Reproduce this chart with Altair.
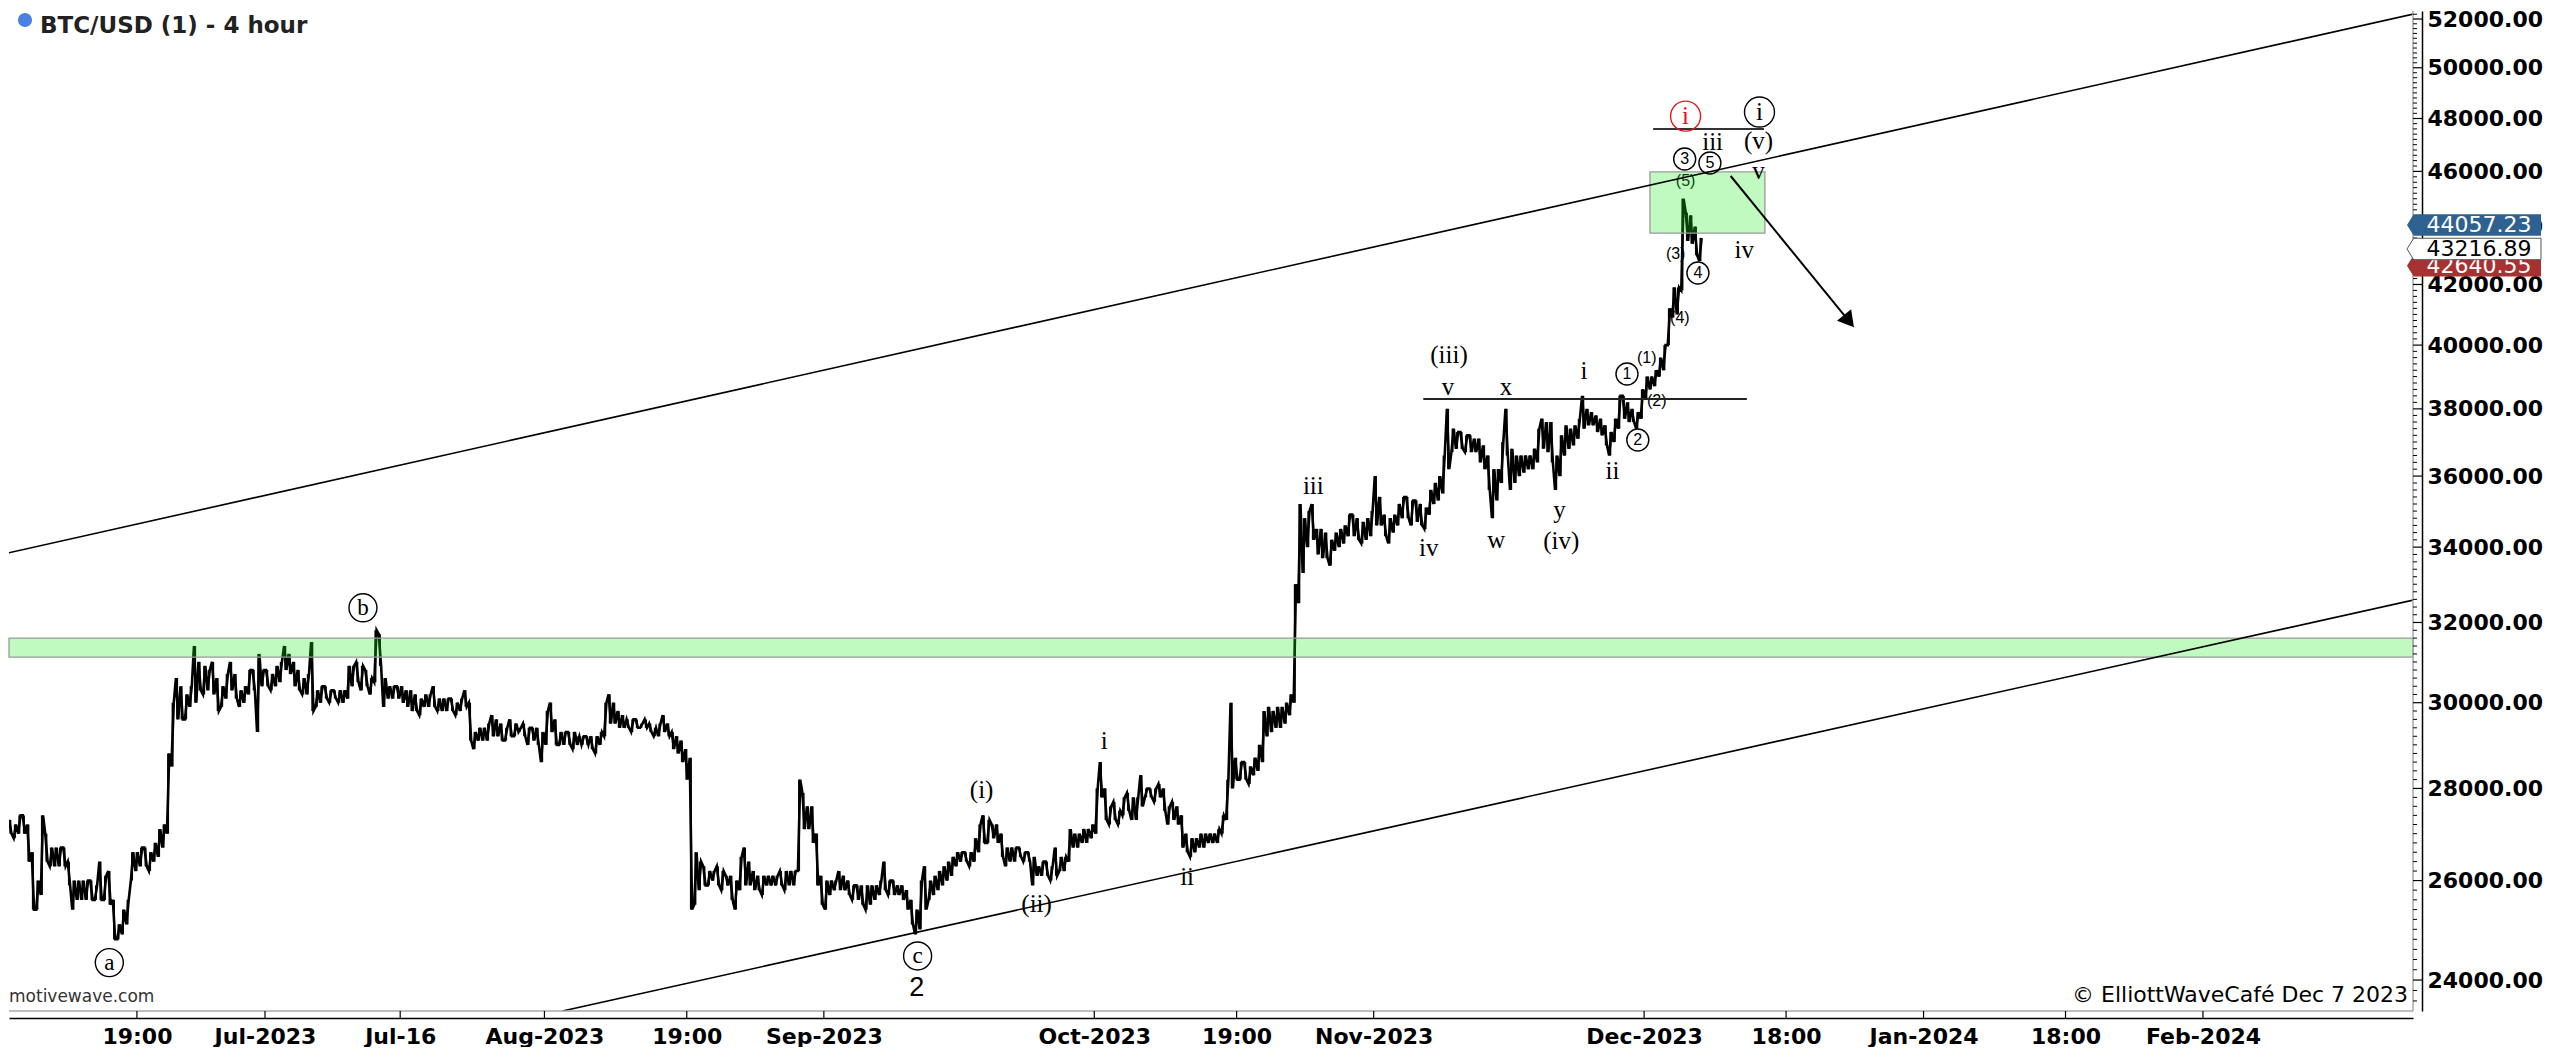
import altair as alt
import pandas as pd

# ---------------- price data: 12-hour bars ----------------
# each tuple = one day: (low 1st half, high 1st half, low 2nd half, high 2nd half), in hundreds of USD
jun = [  # Jun 2 .. Jun 30
    (268, 272, 270, 274), (270, 273, 269, 272), (270, 274, 270, 274), (264, 272, 254, 266),
    (254, 260, 257, 274), (264, 270, 263, 267), (263, 267, 263, 267), (263, 267, 259, 264),
    (254, 260, 256, 260), (256, 260, 256, 260), (256, 260, 256, 259), (256, 264, 256, 261),
    (255, 262, 248, 256), (248, 251, 249, 254), (251, 256, 260, 266), (262, 266, 263, 267),
    (263, 267, 262, 266), (264, 268, 265, 271), (267, 272, 270, 288), (285, 300, 296, 306),
    (296, 304, 296, 302), (299, 304, 300, 314), (303, 310, 302, 309), (303, 308, 302, 310),
    (298, 306, 299, 304), (301, 307, 303, 310), (301, 307, 299, 303), (300, 304, 302, 308),
    (303, 308, 293, 312),
]
jul = [
    (304, 308, 304, 308), (303, 307, 304, 309), (305, 310, 308, 314), (307, 312, 304, 310),
    (303, 308, 302, 306), (302, 307, 298, 315), (299, 303, 300, 304), (301, 304, 300, 303),
    (301, 303, 300, 303), (300, 303, 301, 309), (304, 309, 305, 310), (303, 309, 304, 308),
    (302, 306, 305, 318), (309, 317, 299, 306), (301, 304, 301, 304), (301, 304, 300, 304),
    (299, 303, 298, 303), (298, 302, 297, 301), (299, 302, 299, 302), (299, 304, 298, 301),
    (298, 301, 298, 301), (298, 301, 297, 300), (298, 301, 299, 303), (291, 300, 289, 293),
    (291, 294, 291, 294), (291, 295, 292, 297), (292, 296, 291, 295), (291, 294, 292, 296),
    (292, 295, 293, 294), (292, 295, 290, 294), (291, 294, 290, 294),
]
aug = [
    (286, 293, 290, 298), (293, 300, 290, 296), (290, 293, 290, 293), (290, 293, 289, 293),
    (290, 292, 290, 292), (290, 292, 289, 292), (288, 292, 290, 293), (292, 300, 295, 302),
    (295, 300, 294, 298), (294, 297, 294, 296), (293, 296, 294, 296), (294, 295, 294, 296),
    (293, 295, 292, 294), (292, 295, 293, 297), (292, 295, 289, 293), (288, 292, 286, 291),
    (282, 289, 254, 287), (255, 266, 258, 264), (259, 263, 259, 262), (260, 262, 259, 263),
    (258, 262, 259, 261), (256, 261, 254, 260), (258, 265, 259, 267), (259, 264, 258, 262),
    (258, 261, 257, 261), (259, 261, 259, 261), (259, 261, 259, 262), (258, 262, 259, 262),
    (259, 262, 262, 282), (271, 279, 271, 276), (268, 276, 259, 270),
]
sep = [
    (255, 261, 254, 260), (257, 260, 258, 260), (258, 262, 258, 261), (257, 260, 256, 259),
    (256, 259, 255, 259), (254, 259, 255, 259), (256, 259, 257, 260), (258, 264, 257, 260),
    (257, 260, 257, 259), (256, 259, 254, 258), (251, 256, 249, 254), (250, 260, 254, 263),
    (256, 260, 257, 261), (258, 262, 259, 263), (260, 264, 261, 265), (263, 266, 264, 266),
    (264, 266, 263, 266), (264, 269, 266, 272), (268, 274, 268, 273), (269, 272, 268, 272),
    (265, 270, 263, 267), (264, 267, 264, 267), (265, 267, 264, 266), (264, 266, 259, 265),
    (261, 263, 261, 264), (261, 264, 260, 263), (261, 267, 262, 265), (262, 265, 264, 271),
    (267, 270, 267, 270), (268, 271, 268, 271),
]
oct_ = [
    (269, 272, 270, 280), (278, 286, 273, 280), (272, 276, 273, 277), (272, 275, 274, 278),
    (275, 279, 273, 278), (273, 278, 276, 283), (278, 280, 278, 280), (277, 280, 278, 281),
    (275, 280, 272, 276), (273, 277, 272, 276), (267, 274, 266, 270), (265, 269, 266, 269),
    (267, 270, 267, 270), (268, 270, 268, 270), (268, 271, 270, 274), (273, 282, 280, 300),
    (282, 287, 282, 286), (282, 286, 281, 285), (283, 287, 284, 290), (286, 298, 292, 299),
    (293, 298, 294, 299), (294, 299, 295, 300), (297, 302, 300, 330), (325, 352, 333, 348),
    (340, 350, 342, 352), (338, 345, 337, 345), (337, 344, 335, 342), (339, 344, 340, 345),
    (341, 346, 343, 349), (343, 349, 342, 348), (341, 347, 342, 348),
]
nov = [
    (343, 350, 346, 360), (346, 354, 343, 349), (341, 348, 344, 349), (346, 352, 348, 354),
    (348, 354, 346, 353), (347, 353, 346, 352), (345, 351, 349, 356), (352, 358, 353, 360),
    (355, 366, 362, 380), (367, 374, 368, 373), (368, 373, 367, 372), (367, 372, 367, 371),
    (364, 371, 362, 369), (356, 366, 348, 362), (353, 362, 358, 370), (366, 380, 356, 368),
    (358, 366, 360, 366), (361, 366, 362, 366), (362, 368, 364, 374), (368, 377, 367, 376),
    (364, 376, 356, 366), (360, 372, 366, 375), (368, 374, 369, 375), (371, 377, 374, 384),
    (375, 380, 375, 379), (373, 378, 372, 377), (369, 375, 366, 373), (370, 377, 374, 384),
    (377, 384, 376, 382), (376, 380, 374, 379),
]
dec = [  # Dec 1 .. Dec 7
    (377, 386, 383, 390), (386, 390, 387, 392), (390, 396, 392, 400), (400, 412, 409, 419),
    (410, 419, 418, 450), (435, 445, 434, 444), (430, 440, 428, 436),
]

BAR_START = "2023-06-02 00:00"
CLOCK_SHIFT_H = -12          # chart clock vs UTC
REF_DAY = pd.Timestamp("2023-07-01")

# time axis ticks
tick_dates = ["2023-06-16 19:00", "2023-07-01", "2023-07-16", "2023-08-01", "2023-08-16 19:00",
              "2023-09-01", "2023-10-01", "2023-10-16 19:00", "2023-11-01", "2023-12-01",
              "2023-12-16 18:00", "2024-01-01", "2024-01-16 18:00", "2024-02-01"]
tick_labels = ["19:00", "Jul-2023", "Jul-16", "Aug-2023", "19:00", "Sep-2023", "Oct-2023", "19:00",
               "Nov-2023", "Dec-2023", "18:00", "Jan-2024", "18:00", "Feb-2024"]
y_major = list(range(24000, 52001, 2000))

# annotation geometry (day offset from Jul 1, price)
upper_line_d, upper_line_p = [-29.07, 238.85], [33810, 52250]
lower_line_d, lower_line_p = [33.0, 238.85], [23410, 32610]
mid_hline_d, mid_hline_p = [128.5, 164.4], [38300, 38300]
top_hline_d, top_hline_p = [154.0, 166.3], [47600, 47600]
arrow_d, arrow_p = [162.6, 175.73], [45830, 40780]
zone_p = [31120, 31600]
box_d, box_p = [153.65, 166.4], [43770, 45980]

roman_labels = [("(iii)", 131.35, 39690), ("v", 131.24, 38680), ("x", 137.67, 38680),
                ("i", 146.33, 39180), ("ii", 149.5, 36150), ("y", 143.6, 35030),
                ("(iv)", 143.8, 34170), ("w", 136.6, 34200), ("iv", 129.1, 33980),
                ("iii", 116.3, 35710), ("(i)", 79.5, 27970), ("(ii)", 85.6, 25520),
                ("i", 93.1, 29080), ("ii", 102.3, 26080), ("iii", 160.6, 47100),
                ("(v)", 165.7, 47140), ("v", 165.7, 46010), ("iv", 164.1, 43180)]
circled_letters = [("a", -17.27, 24340), ("b", 10.87, 32380), ("c", 72.4, 24470)]
circled_i_red = [("i", 157.6, 48090)]
circled_i_black = [("i", 165.8, 48250)]
circled_digits = [("1", 151.1, 39080), ("2", 152.3, 37060), ("3", 157.5, 46460),
                  ("4", 158.97, 42390), ("5", 160.3, 46310)]
paren_digits = [("(1)", 153.3, 39590), ("(2)", 154.4, 38240), ("(3)", 156.5, 43040),
                ("(4)", 156.97, 40880), ("(5)", 157.6, 45650)]
big_labels = [("2", 72.3, 23850)]
price_tags = [(42640.55, "#a83232", "white"), (44057.23, "#2f6190", "white"), (43216.89, "white", "black")]

# ---------------- layout ----------------
W, H = 2404, 1000
X_DOMAIN = [-28.40, 238.30]
Y_DOMAIN = [23410, 52336]


def day_of(ts):
    return (pd.Timestamp(ts) - REF_DAY) / pd.Timedelta(days=1)


tick_days = [round(day_of(s), 4) for s in tick_dates]
label_expr = "".join(f"abs(datum.value - ({v})) < 0.01 ? '{l}' : " for v, l in zip(tick_days, tick_labels)) + "''"

xscale = alt.Scale(domain=X_DOMAIN, nice=False, zero=False)
yscale = alt.Scale(type="log", domain=Y_DOMAIN, nice=False)
xaxis = alt.Axis(values=tick_days, labelExpr=label_expr, ticks=False, tickSize=0, grid=False,
                 domainColor="black", domainWidth=1.5, offset=7, labelPadding=8,
                 labelFont="DejaVu Sans", labelFontSize=22, labelFontWeight="bold", labelColor="black",
                 labelOverlap=False, labelFlush=False, title=None)
yaxis = alt.Axis(orient="right", values=y_major, format=".2f", ticks=False, tickSize=0, grid=False,
                 domainColor="black", domainWidth=1.5, offset=9, labelPadding=5,
                 labelFont="DejaVu Sans", labelFontSize=22, labelFontWeight="bold", labelColor="black",
                 labelOverlap=False, labelFlush=False, title=None)


def X(f):
    return alt.X(f"{f}:Q", scale=xscale, axis=xaxis)


def Y(f):
    return alt.Y(f"{f}:Q", scale=yscale, axis=yaxis)


# bar path: each 12-hour bar is drawn as a stroke between its low and its high,
# visited in the order that leads toward the next bar (like a dense OHLC scribble)
start = pd.Timestamp(BAR_START) + pd.Timedelta(hours=CLOCK_SHIFT_H)
lows, highs = [], []
for day in jun + jul + aug + sep + oct_ + nov + dec:
    lows += [day[0] * 100, day[2] * 100]
    highs += [day[1] * 100, day[3] * 100]
n = len(lows)
d0 = [day_of(start + pd.Timedelta(hours=12 * i)) for i in range(n)]
path_d, path_p = [], []
for i in range(n):
    mid = (lows[i] + highs[i]) / 2
    nxt = (lows[i + 1] + highs[i + 1]) / 2 if i + 1 < n else mid
    first, second = (lows[i], highs[i]) if nxt >= mid else (highs[i], lows[i])
    path_d += [d0[i] + 0.12, d0[i] + 0.38]
    path_p += [first, second]
path_df = pd.DataFrame({"d": path_d, "p": path_p, "o": range(len(path_d))})
bars_df = pd.DataFrame({"d": [v + 0.25 for v in d0], "lo": lows, "hi": highs})

layers = []
layers.append(alt.Chart(path_df).mark_line(color="black", strokeWidth=2.6, clip=True,
                                           strokeJoin="miter").encode(
    x=X("d"), y=Y("p"), order="o:Q"))
layers.append(alt.Chart(bars_df).mark_rule(color="black", strokeWidth=2.0, clip=True).encode(
    x=X("d"), y=Y("lo"), y2="hi"))


def text_layer(rows, font, size, color="black", weight="normal"):
    df = pd.DataFrame(rows, columns=["t", "d", "p"])
    return alt.Chart(df).mark_text(font=font, fontSize=size, color=color, fontWeight=weight,
                                   align="center", baseline="middle").encode(x=X("d"), y=Y("p"), text="t:N")


def circle_layer(rows, diam, color="black"):
    df = pd.DataFrame(rows, columns=["t", "d", "p"])
    return alt.Chart(df).mark_point(shape="circle", filled=False, size=diam * diam, color=color,
                                    strokeWidth=1.4, opacity=1).encode(x=X("d"), y=Y("p"))


layers.append(text_layer(paren_digits, "Liberation Sans", 16))

# green zones (translucent, drawn over bars)
zone_df = pd.DataFrame({"p1": [zone_p[0]], "p2": [zone_p[1]]})
layers.append(alt.Chart(zone_df).mark_rect(fill="#22ee22", fillOpacity=0.28, stroke="#9a9a9a",
                                           strokeWidth=1.3).encode(
    x=alt.value(0), x2=alt.value(W), y=Y("p1"), y2="p2"))
box_df = pd.DataFrame({"d1": [box_d[0]], "d2": [box_d[1]], "p1": [box_p[0]], "p2": [box_p[1]]})
layers.append(alt.Chart(box_df).mark_rect(fill="#22ee22", fillOpacity=0.28, stroke="#9a9a9a",
                                          strokeWidth=1.3).encode(
    x=X("d1"), x2="d2", y=Y("p1"), y2="p2"))


def line_layer(ds, ps, width=1.6, color="black"):
    df = pd.DataFrame({"d": ds, "p": ps})
    return alt.Chart(df).mark_line(color=color, strokeWidth=width, clip=True).encode(x=X("d"), y=Y("p"))


layers.append(line_layer(upper_line_d, upper_line_p))
layers.append(line_layer(lower_line_d, lower_line_p))
layers.append(line_layer(mid_hline_d, mid_hline_p, 2.0, "#222222"))
layers.append(line_layer(top_hline_d, top_hline_p, 2.0, "#333333"))
layers.append(line_layer(arrow_d, arrow_p, 2.0))
head_df = pd.DataFrame({"d": [arrow_d[1]], "p": [arrow_p[1]]})
layers.append(alt.Chart(head_df).mark_point(shape="triangle-up", filled=True, color="black", size=330,
                                            angle=141, opacity=1).encode(x=X("d"), y=Y("p")))

# wave labels
layers.append(text_layer(roman_labels, "Liberation Serif", 25))
layers.append(circle_layer(circled_letters, 28))
layers.append(text_layer(circled_letters, "Liberation Serif", 23))
layers.append(circle_layer(circled_i_red, 30, "#e8141b"))
layers.append(text_layer(circled_i_red, "Liberation Serif", 25, "#e8141b"))
layers.append(circle_layer(circled_i_black, 30))
layers.append(text_layer(circled_i_black, "Liberation Serif", 25))
layers.append(circle_layer(circled_digits, 22))
layers.append(text_layer(circled_digits, "Liberation Sans", 16))
layers.append(text_layer(big_labels, "Liberation Sans", 27))

# plot frame: grey inner edges, axis tick strips
layers.append(alt.Chart(pd.DataFrame({"k": [0]})).mark_rule(color="#a8a8a8", strokeWidth=1.5).encode(
    x=alt.value(W), y=alt.value(0), y2=alt.value(H)))
layers.append(alt.Chart(pd.DataFrame({"k": [0]})).mark_rule(color="#a8a8a8", strokeWidth=1.5).encode(
    y=alt.value(H), x=alt.value(0), x2=alt.value(W)))
layers.append(alt.Chart(pd.DataFrame({"d": tick_days})).mark_rule(color="black", strokeWidth=1.2).encode(
    x=X("d"), y=alt.value(H), y2=alt.value(H + 7)))
layers.append(alt.Chart(pd.DataFrame({"p": y_major})).mark_rule(color="black", strokeWidth=1.2).encode(
    y=Y("p"), x=alt.value(W), x2=alt.value(W + 9)))
minor = [v for v in range(23600, 52300, 200) if v % 2000 != 0]
layers.append(alt.Chart(pd.DataFrame({"p": minor})).mark_rule(color="black", strokeWidth=1).encode(
    y=Y("p"), x=alt.value(W), x2=alt.value(W + 4)))

# last-price tags on the price axis
TAG_PATH = "M -1 0 L -0.9 -0.16 L 1 -0.16 L 1 0.16 L -0.9 0.16 Z"
for value, fill, tcol in price_tags:
    tdf = pd.DataFrame({"p": [value], "t": [f"{value:.2f}"]})
    kw = dict(stroke="#555555", strokeWidth=1) if fill == "white" else dict(strokeWidth=0)
    layers.append(alt.Chart(tdf).mark_point(shape=TAG_PATH, filled=True, fill=fill, size=134 * 134,
                                            opacity=1, **kw).encode(x=alt.value(W + 61), y=Y("p")))
    layers.append(alt.Chart(tdf).mark_text(font="DejaVu Sans", fontSize=22, color=tcol, align="center",
                                           baseline="middle").encode(x=alt.value(W + 66), y=Y("p"), text="t:N"))

# title, watermark texts
layers.append(alt.Chart(pd.DataFrame({"k": [0]})).mark_point(shape="circle", filled=True, color="#4a80e0",
                                                             size=200, opacity=1).encode(
    x=alt.value(16), y=alt.value(9)))
layers.append(alt.Chart(pd.DataFrame({"t": ["BTC/USD (1) - 4 hour"]})).mark_text(
    align="left", baseline="middle", font="DejaVu Sans", fontSize=23, fontWeight="bold", color="#222222").encode(
    x=alt.value(31), y=alt.value(15), text="t:N"))
layers.append(alt.Chart(pd.DataFrame({"t": ["motivewave.com"]})).mark_text(
    align="left", baseline="middle", font="DejaVu Sans", fontSize=17, color="#333333").encode(
    x=alt.value(0), y=alt.value(H - 14), text="t:N"))
layers.append(alt.Chart(pd.DataFrame({"t": ["\u00a9 ElliottWaveCaf\u00e9 Dec 7 2023"]})).mark_text(
    align="right", baseline="middle", font="DejaVu Sans", fontSize=22, color="black").encode(
    x=alt.value(W - 5), y=alt.value(H - 16), text="t:N"))

chart = alt.layer(*layers).properties(width=W, height=H, padding=0).configure_view(strokeWidth=0)
chart.save("out.html", embed_options={"renderer": "svg", "actions": False})
